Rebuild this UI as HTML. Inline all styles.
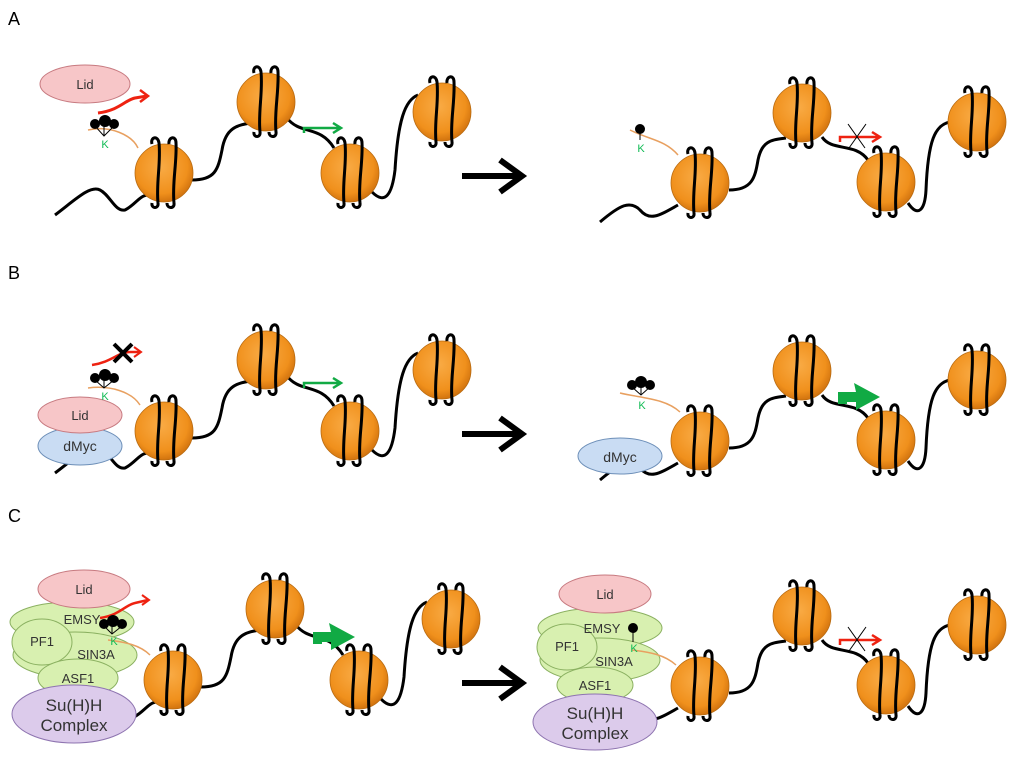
<!DOCTYPE html>
<html><head><meta charset="utf-8"><style>
html,body{margin:0;padding:0;background:#fff;}
svg{display:block;}
text{font-family:"Liberation Sans",sans-serif;}
</style></head><body>
<svg width="1024" height="757" viewBox="0 0 1024 757" xmlns="http://www.w3.org/2000/svg">
<defs>
<radialGradient id="og" cx="0.45" cy="0.4" r="0.65">
<stop offset="0" stop-color="#f9ab45"/><stop offset="0.7" stop-color="#f0901c"/><stop offset="1" stop-color="#c86a0a"/>
</radialGradient>
<g id="nuc">
<circle r="29" fill="url(#og)" stroke="#b86a10" stroke-width="0.8"/>
<path d="M-12,-29 C-14,-36 -6,-38 -5,-30 C-3,-10 -8,10 -6,30 C-5,36 -13,36 -12,30" fill="none" stroke="#000" stroke-width="3"/>
<path d="M5,-29 C4,-36 12,-38 12,-30 C13,-10 8,10 10,30 C11,36 3,36 3,30" fill="none" stroke="#000" stroke-width="3"/>
</g>
<g id="chainL">
<path d="M55,215 C75,200 90,185 100,190 C110,195 115,212 125,210 C135,205 140,195 148,195" fill="none" stroke="#000" stroke-width="3"/>
<path d="M192,180 C215,180 218,170 222,150 C226,125 240,125 256,122" fill="none" stroke="#000" stroke-width="3"/>
<path d="M287,118 C300,135 320,125 334,148" fill="none" stroke="#000" stroke-width="3"/>
<path d="M372,192 C385,205 392,195 395,170 C398,120 405,100 418,95" fill="none" stroke="#000" stroke-width="3"/>
<use href="#nuc" x="164" y="173"/><use href="#nuc" x="266" y="102"/><use href="#nuc" x="350" y="173"/><use href="#nuc" x="442" y="112"/>
</g>
<g id="chainR">
<path d="M600,222 C620,205 630,200 640,210 C650,222 660,215 678,205" fill="none" stroke="#000" stroke-width="3"/>
<path d="M729,190 C752,190 755,178 758,160 C762,140 772,140 786,138" fill="none" stroke="#000" stroke-width="3"/>
<path d="M822,137 C832,152 855,142 868,160" fill="none" stroke="#000" stroke-width="3"/>
<path d="M908,203 C918,218 925,210 926,190 C928,140 935,125 950,122" fill="none" stroke="#000" stroke-width="3"/>
<use href="#nuc" x="700" y="183"/><use href="#nuc" x="802" y="113"/><use href="#nuc" x="886" y="182"/><use href="#nuc" x="977" y="122"/>
</g>
<g id="bigarrow"><path d="M462,176 L520,176 M500,160 L522,176 L500,192" fill="none" stroke="#000" stroke-width="6"/></g>
<path id="garrow" d="M838,404 L838,392 L856,392 L854,383 L880,397 L856,410 L856,402 L847,402 L847,404 Z" fill="#1a4"/>
</defs>

<text x="8" y="25" font-size="18">A</text>
<text x="8" y="279" font-size="18">B</text>
<text x="8" y="522" font-size="18">C</text>

<!-- PANEL A -->
<use href="#chainL"/>
<use href="#chainR"/>
<use href="#bigarrow"/>
<path d="M88,130 C110,125 132,135 138,148" fill="none" stroke="#e8a060" stroke-width="1.5"/>
<path d="M630,130 C650,140 665,140 678,155" fill="none" stroke="#e8a060" stroke-width="1.5"/>
<ellipse cx="85" cy="84" rx="45" ry="19" fill="#f7c6c8" stroke="#c77a80"/>
<text x="85" y="89" font-size="13" text-anchor="middle" fill="#333">Lid</text>
<path d="M98,113 C120,110 125,100 135,98 L147,96" fill="none" stroke="#e21" stroke-width="3"/>
<path d="M140,90 L148,96 L140,102" fill="none" stroke="#e21" stroke-width="2.5"/>
<g fill="#000"><circle cx="95" cy="124" r="5"/><circle cx="105" cy="121" r="6"/><circle cx="114" cy="124" r="5"/></g>
<path d="M95,126 L104,136 L114,126 M104,124 L104,136" stroke="#000" fill="none"/>
<text x="105" y="148" font-size="11" text-anchor="middle" fill="#1b5">K</text>
<path d="M304,133 L304,128 L340,128 M333,123 L341,128 L333,133" fill="none" stroke="#1a4" stroke-width="2.5"/>
<circle cx="640" cy="129" r="5"/><path d="M640,133 L640,140" stroke="#000"/>
<text x="641" y="152" font-size="11" text-anchor="middle" fill="#1b5">K</text>
<path d="M840,142 L840,137 L878,137 M872,132 L880,137 L872,142" fill="none" stroke="#e21" stroke-width="2.5"/>
<path d="M848,124 L865,148 M866,124 L849,148" stroke="#000" stroke-width="1"/>

<!-- PANEL B -->
<g transform="translate(0,258)"><use href="#chainL"/><use href="#bigarrow"/></g>
<g transform="translate(0,258)"><use href="#chainR"/></g>
<path d="M88,388 C110,385 132,392 140,405" fill="none" stroke="#e8a060" stroke-width="1.5"/>
<ellipse cx="80" cy="446" rx="42" ry="19" fill="#c9dcf3" stroke="#6d8fb8"/>
<text x="80" y="451" font-size="14" text-anchor="middle" fill="#333">dMyc</text>
<ellipse cx="80" cy="415" rx="42" ry="18" fill="#f7c6c8" stroke="#c77a80"/>
<text x="80" y="420" font-size="13" text-anchor="middle" fill="#333">Lid</text>
<path d="M92,365 C112,362 118,352 130,352 L140,352" fill="none" stroke="#e21" stroke-width="2.5"/>
<path d="M134,347 L141,352 L134,357" fill="none" stroke="#e21" stroke-width="2"/>
<path d="M114,344 L132,362 M132,344 L114,362" stroke="#000" stroke-width="4"/>
<g fill="#000"><circle cx="95" cy="378" r="5"/><circle cx="105" cy="375" r="6"/><circle cx="114" cy="378" r="5"/></g>
<path d="M95,380 L104,388 L114,380 M104,378 L104,388" stroke="#000" fill="none"/>
<text x="105" y="400" font-size="11" text-anchor="middle" fill="#1b5">K</text>
<path d="M304,388 L304,383 L340,383 M333,378 L341,383 L333,388" fill="none" stroke="#1a4" stroke-width="2.5"/>
<path d="M620,393 C640,398 665,398 680,412" fill="none" stroke="#e8a060" stroke-width="1.5"/>
<ellipse cx="620" cy="456" rx="42" ry="18" fill="#c9dcf3" stroke="#6d8fb8"/>
<text x="620" y="462" font-size="14" text-anchor="middle" fill="#333">dMyc</text>
<g fill="#000"><circle cx="632" cy="385" r="5"/><circle cx="641" cy="382" r="6"/><circle cx="650" cy="385" r="5"/></g>
<path d="M632,387 L641,395 L650,387 M641,384 L641,395" stroke="#000" fill="none"/>
<text x="642" y="409" font-size="11" text-anchor="middle" fill="#1b5">K</text>
<use href="#garrow"/>

<!-- PANEL C -->
<g transform="translate(9,507)"><use href="#chainL"/></g>
<g transform="translate(0,503)"><use href="#chainR"/></g>
<g transform="translate(0,507)"><use href="#bigarrow"/></g>
<ellipse cx="72" cy="622" rx="62" ry="20" fill="#d8f0b0" stroke="#8ab060"/>
<ellipse cx="75" cy="655" rx="62" ry="23" fill="#d8f0b0" stroke="#8ab060"/>
<ellipse cx="42" cy="642" rx="30" ry="23" fill="#d8f0b0" stroke="#8ab060"/>
<ellipse cx="78" cy="678" rx="40" ry="19" fill="#d8f0b0" stroke="#8ab060"/>
<ellipse cx="74" cy="714" rx="62" ry="29" fill="#dccbeb" stroke="#8e74b0"/>
<ellipse cx="84" cy="589" rx="46" ry="19" fill="#f7c6c8" stroke="#c77a80"/>
<text x="84" y="594" font-size="13" text-anchor="middle" fill="#333">Lid</text>
<text x="82" y="624" font-size="13" text-anchor="middle" fill="#333">EMSY</text>
<text x="42" y="646" font-size="13" text-anchor="middle" fill="#333">PF1</text>
<text x="96" y="659" font-size="13" text-anchor="middle" fill="#333">SIN3A</text>
<text x="78" y="683" font-size="13" text-anchor="middle" fill="#333">ASF1</text>
<text x="74" y="711" font-size="17" text-anchor="middle" fill="#333">Su(H)H</text>
<text x="74" y="731" font-size="17" text-anchor="middle" fill="#333">Complex</text>
<path d="M108,640 C125,642 140,645 150,655" fill="none" stroke="#e8a060" stroke-width="1.5"/>
<path d="M100,618 C120,615 125,605 135,603 L148,600" fill="none" stroke="#e21" stroke-width="2.5"/>
<path d="M142,595 L149,600 L142,605" fill="none" stroke="#e21" stroke-width="2"/>
<g fill="#000"><circle cx="104" cy="624" r="5"/><circle cx="113" cy="621" r="6"/><circle cx="122" cy="624" r="5"/></g>
<path d="M104,626 L112,634 L122,626 M112,624 L112,634" stroke="#000" fill="none"/>
<text x="114" y="645" font-size="11" text-anchor="middle" fill="#1b5">K</text>
<g transform="translate(-525,240)"><use href="#garrow"/></g>

<ellipse cx="600" cy="628" rx="62" ry="20" fill="#d8f0b0" stroke="#8ab060"/>
<ellipse cx="600" cy="660" rx="60" ry="22" fill="#d8f0b0" stroke="#8ab060"/>
<ellipse cx="567" cy="647" rx="30" ry="23" fill="#d8f0b0" stroke="#8ab060"/>
<ellipse cx="595" cy="685" rx="38" ry="18" fill="#d8f0b0" stroke="#8ab060"/>
<ellipse cx="595" cy="722" rx="62" ry="28" fill="#dccbeb" stroke="#8e74b0"/>
<ellipse cx="605" cy="594" rx="46" ry="19" fill="#f7c6c8" stroke="#c77a80"/>
<text x="605" y="599" font-size="13" text-anchor="middle" fill="#333">Lid</text>
<text x="602" y="633" font-size="13" text-anchor="middle" fill="#333">EMSY</text>
<text x="567" y="651" font-size="13" text-anchor="middle" fill="#333">PF1</text>
<text x="614" y="666" font-size="13" text-anchor="middle" fill="#333">SIN3A</text>
<text x="595" y="690" font-size="13" text-anchor="middle" fill="#333">ASF1</text>
<text x="595" y="719" font-size="17" text-anchor="middle" fill="#333">Su(H)H</text>
<text x="595" y="739" font-size="17" text-anchor="middle" fill="#333">Complex</text>
<path d="M632,650 C650,652 665,655 676,665" fill="none" stroke="#e8a060" stroke-width="1.5"/>
<circle cx="633" cy="628" r="5"/><path d="M633,632 L633,642" stroke="#000"/>
<text x="634" y="652" font-size="11" text-anchor="middle" fill="#1b5">K</text>
<path d="M840,645 L840,640 L878,640 M872,635 L880,640 L872,645" fill="none" stroke="#e21" stroke-width="2.5"/>
<path d="M848,627 L865,651 M866,627 L849,651" stroke="#000" stroke-width="1"/>
</svg>
</body></html>
